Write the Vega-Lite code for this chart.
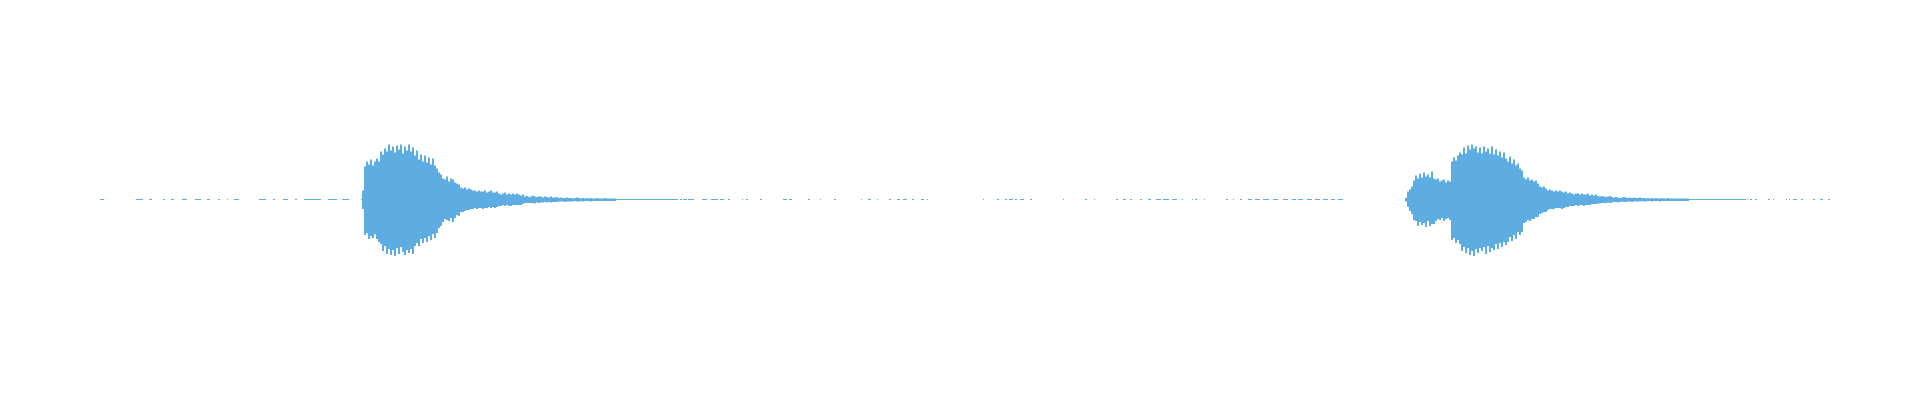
{
  "$schema": "https://vega.github.io/schema/vega-lite/v6.json",
  "description": "Audio waveform: two plucked notes, min/max amplitude per column with near-silent stretches on the zero line.",
  "width": 1920,
  "height": 400,
  "autosize": {"type": "fit", "contains": "padding"},
  "padding": 0,
  "background": "#ffffff",
  "config": {"view": {"stroke": null}},
  "datasets": {
    "wave": [
      {"t":3.63,"hi":0.045,"lo":-0.045},
      {"t":3.65,"hi":0.165,"lo":-0.175},
      {"t":3.67,"hi":0.19,"lo":-0.165},
      {"t":3.69,"hi":0.175,"lo":-0.195},
      {"t":3.71,"hi":0.2,"lo":-0.18},
      {"t":3.73,"hi":0.17,"lo":-0.19},
      {"t":3.75,"hi":0.19,"lo":-0.17},
      {"t":3.77,"hi":0.205,"lo":-0.195},
      {"t":3.79,"hi":0.19,"lo":-0.21},
      {"t":3.81,"hi":0.24,"lo":-0.22},
      {"t":3.83,"hi":0.225,"lo":-0.255},
      {"t":3.85,"hi":0.255,"lo":-0.23},
      {"t":3.87,"hi":0.24,"lo":-0.27},
      {"t":3.89,"hi":0.275,"lo":-0.245},
      {"t":3.91,"hi":0.245,"lo":-0.275},
      {"t":3.93,"hi":0.265,"lo":-0.25},
      {"t":3.95,"hi":0.235,"lo":-0.28},
      {"t":3.97,"hi":0.27,"lo":-0.24},
      {"t":3.99,"hi":0.25,"lo":-0.27},
      {"t":4.01,"hi":0.275,"lo":-0.235},
      {"t":4.03,"hi":0.23,"lo":-0.26},
      {"t":4.05,"hi":0.265,"lo":-0.275},
      {"t":4.07,"hi":0.245,"lo":-0.25},
      {"t":4.09,"hi":0.275,"lo":-0.265},
      {"t":4.11,"hi":0.24,"lo":-0.245},
      {"t":4.13,"hi":0.26,"lo":-0.27},
      {"t":4.15,"hi":0.22,"lo":-0.23},
      {"t":4.17,"hi":0.245,"lo":-0.215},
      {"t":4.19,"hi":0.2,"lo":-0.23},
      {"t":4.21,"hi":0.225,"lo":-0.195},
      {"t":4.23,"hi":0.19,"lo":-0.215},
      {"t":4.25,"hi":0.22,"lo":-0.19},
      {"t":4.27,"hi":0.185,"lo":-0.21},
      {"t":4.29,"hi":0.21,"lo":-0.18},
      {"t":4.31,"hi":0.175,"lo":-0.2},
      {"t":4.33,"hi":0.205,"lo":-0.17},
      {"t":4.35,"hi":0.17,"lo":-0.19},
      {"t":4.37,"hi":0.155,"lo":-0.165},
      {"t":4.39,"hi":0.135,"lo":-0.14},
      {"t":4.41,"hi":0.125,"lo":-0.13},
      {"t":4.43,"hi":0.105,"lo":-0.11},
      {"t":4.45,"hi":0.1,"lo":-0.095},
      {"t":4.47,"hi":0.115,"lo":-0.1},
      {"t":4.49,"hi":0.09,"lo":-0.105},
      {"t":4.51,"hi":0.105,"lo":-0.09},
      {"t":4.53,"hi":0.1,"lo":-0.11},
      {"t":4.55,"hi":0.085,"lo":-0.09},
      {"t":4.57,"hi":0.08,"lo":-0.075},
      {"t":4.59,"hi":0.075,"lo":-0.08},
      {"t":4.61,"hi":0.06,"lo":-0.06},
      {"t":4.63,"hi":0.055,"lo":-0.06},
      {"t":4.65,"hi":0.06,"lo":-0.055},
      {"t":4.67,"hi":0.05,"lo":-0.05},
      {"t":4.69,"hi":0.055,"lo":-0.05},
      {"t":4.71,"hi":0.05,"lo":-0.045},
      {"t":4.73,"hi":0.045,"lo":-0.045},
      {"t":4.75,"hi":0.045,"lo":-0.04},
      {"t":4.77,"hi":0.04,"lo":-0.045},
      {"t":4.79,"hi":0.045,"lo":-0.04},
      {"t":4.81,"hi":0.04,"lo":-0.04},
      {"t":4.83,"hi":0.04,"lo":-0.045},
      {"t":4.85,"hi":0.045,"lo":-0.04},
      {"t":4.87,"hi":0.035,"lo":-0.04},
      {"t":4.89,"hi":0.04,"lo":-0.035},
      {"t":4.91,"hi":0.045,"lo":-0.04},
      {"t":4.93,"hi":0.035,"lo":-0.035},
      {"t":4.95,"hi":0.035,"lo":-0.04},
      {"t":4.97,"hi":0.04,"lo":-0.035},
      {"t":4.99,"hi":0.03,"lo":-0.03},
      {"t":5.01,"hi":0.025,"lo":-0.03},
      {"t":5.03,"hi":0.03,"lo":-0.025},
      {"t":5.05,"hi":0.035,"lo":-0.03},
      {"t":5.07,"hi":0.025,"lo":-0.025},
      {"t":5.09,"hi":0.03,"lo":-0.03},
      {"t":5.11,"hi":0.025,"lo":-0.03},
      {"t":5.13,"hi":0.03,"lo":-0.025},
      {"t":5.15,"hi":0.025,"lo":-0.025},
      {"t":5.17,"hi":0.03,"lo":-0.025},
      {"t":5.19,"hi":0.025,"lo":-0.025},
      {"t":5.21,"hi":0.02,"lo":-0.025},
      {"t":5.23,"hi":0.025,"lo":-0.02},
      {"t":5.25,"hi":0.015,"lo":-0.015},
      {"t":5.27,"hi":0.0175,"lo":-0.015},
      {"t":5.29,"hi":0.0125,"lo":-0.015},
      {"t":5.31,"hi":0.015,"lo":-0.015},
      {"t":5.33,"hi":0.02,"lo":-0.015},
      {"t":5.35,"hi":0.015,"lo":-0.0175},
      {"t":5.37,"hi":0.0125,"lo":-0.0125},
      {"t":5.39,"hi":0.015,"lo":-0.015},
      {"t":5.41,"hi":0.015,"lo":-0.0125},
      {"t":5.43,"hi":0.01,"lo":-0.0125},
      {"t":5.45,"hi":0.015,"lo":-0.01},
      {"t":5.47,"hi":0.0125,"lo":-0.0125},
      {"t":5.49,"hi":0.01,"lo":-0.01},
      {"t":5.51,"hi":0.015,"lo":-0.0125},
      {"t":5.53,"hi":0.01,"lo":-0.01},
      {"t":5.55,"hi":0.01,"lo":-0.01},
      {"t":5.57,"hi":0.0125,"lo":-0.01},
      {"t":5.59,"hi":0.0075,"lo":-0.0075},
      {"t":5.61,"hi":0.01,"lo":-0.0075},
      {"t":5.63,"hi":0.0075,"lo":-0.0075},
      {"t":5.65,"hi":0.0075,"lo":-0.01},
      {"t":5.67,"hi":0.01,"lo":-0.0075},
      {"t":5.69,"hi":0.0075,"lo":-0.0075},
      {"t":5.71,"hi":0.0075,"lo":-0.0075},
      {"t":5.73,"hi":0.005,"lo":-0.0075},
      {"t":5.75,"hi":0.0075,"lo":-0.005},
      {"t":5.77,"hi":0.01,"lo":-0.0075},
      {"t":5.79,"hi":0.0075,"lo":-0.0075},
      {"t":5.81,"hi":0.005,"lo":-0.005},
      {"t":5.83,"hi":0.0075,"lo":-0.0075},
      {"t":5.85,"hi":0.005,"lo":-0.005},
      {"t":5.87,"hi":0.0075,"lo":-0.005},
      {"t":5.89,"hi":0.005,"lo":-0.005},
      {"t":5.91,"hi":0.0075,"lo":-0.0075},
      {"t":5.93,"hi":0.005,"lo":-0.005},
      {"t":5.95,"hi":0.005,"lo":-0.005},
      {"t":5.97,"hi":0.0075,"lo":-0.005},
      {"t":5.99,"hi":0.005,"lo":-0.005},
      {"t":6.01,"hi":0.005,"lo":-0.005},
      {"t":6.03,"hi":0.005,"lo":-0.005},
      {"t":6.05,"hi":0.0075,"lo":-0.005},
      {"t":6.07,"hi":0.005,"lo":-0.005},
      {"t":6.09,"hi":0.005,"lo":-0.005},
      {"t":6.11,"hi":0.005,"lo":-0.005},
      {"t":6.13,"hi":0.005,"lo":-0.005},
      {"t":6.15,"hi":0.005,"lo":-0.005},
      {"t":14.06,"hi":0.0075,"lo":-0.0075},
      {"t":14.08,"hi":0.04,"lo":-0.035},
      {"t":14.1,"hi":0.05,"lo":-0.055},
      {"t":14.12,"hi":0.065,"lo":-0.07},
      {"t":14.14,"hi":0.095,"lo":-0.1},
      {"t":14.16,"hi":0.12,"lo":-0.105},
      {"t":14.18,"hi":0.105,"lo":-0.13},
      {"t":14.2,"hi":0.13,"lo":-0.11},
      {"t":14.22,"hi":0.11,"lo":-0.125},
      {"t":14.24,"hi":0.135,"lo":-0.115},
      {"t":14.26,"hi":0.115,"lo":-0.135},
      {"t":14.28,"hi":0.125,"lo":-0.105},
      {"t":14.3,"hi":0.11,"lo":-0.13},
      {"t":14.32,"hi":0.14,"lo":-0.12},
      {"t":14.34,"hi":0.105,"lo":-0.12},
      {"t":14.36,"hi":0.1,"lo":-0.105},
      {"t":14.38,"hi":0.105,"lo":-0.095},
      {"t":14.4,"hi":0.09,"lo":-0.1},
      {"t":14.42,"hi":0.095,"lo":-0.09},
      {"t":14.44,"hi":0.1,"lo":-0.105},
      {"t":14.46,"hi":0.085,"lo":-0.095},
      {"t":14.48,"hi":0.095,"lo":-0.09},
      {"t":14.5,"hi":0.09,"lo":-0.1},
      {"t":14.52,"hi":0.19,"lo":-0.2},
      {"t":14.54,"hi":0.21,"lo":-0.19},
      {"t":14.56,"hi":0.195,"lo":-0.215},
      {"t":14.58,"hi":0.22,"lo":-0.2},
      {"t":14.6,"hi":0.235,"lo":-0.22},
      {"t":14.62,"hi":0.225,"lo":-0.255},
      {"t":14.64,"hi":0.26,"lo":-0.235},
      {"t":14.66,"hi":0.23,"lo":-0.265},
      {"t":14.68,"hi":0.27,"lo":-0.24},
      {"t":14.7,"hi":0.25,"lo":-0.275},
      {"t":14.72,"hi":0.275,"lo":-0.255},
      {"t":14.74,"hi":0.255,"lo":-0.28},
      {"t":14.76,"hi":0.265,"lo":-0.245},
      {"t":14.78,"hi":0.235,"lo":-0.265},
      {"t":14.8,"hi":0.26,"lo":-0.24},
      {"t":14.82,"hi":0.23,"lo":-0.255},
      {"t":14.84,"hi":0.265,"lo":-0.235},
      {"t":14.86,"hi":0.24,"lo":-0.27},
      {"t":14.88,"hi":0.255,"lo":-0.23},
      {"t":14.9,"hi":0.23,"lo":-0.26},
      {"t":14.92,"hi":0.265,"lo":-0.24},
      {"t":14.94,"hi":0.225,"lo":-0.25},
      {"t":14.96,"hi":0.25,"lo":-0.22},
      {"t":14.98,"hi":0.22,"lo":-0.245},
      {"t":15.0,"hi":0.24,"lo":-0.215},
      {"t":15.02,"hi":0.21,"lo":-0.235},
      {"t":15.04,"hi":0.235,"lo":-0.21},
      {"t":15.06,"hi":0.205,"lo":-0.225},
      {"t":15.08,"hi":0.19,"lo":-0.21},
      {"t":15.1,"hi":0.215,"lo":-0.185},
      {"t":15.12,"hi":0.18,"lo":-0.205},
      {"t":15.14,"hi":0.2,"lo":-0.175},
      {"t":15.16,"hi":0.17,"lo":-0.195},
      {"t":15.18,"hi":0.18,"lo":-0.16},
      {"t":15.2,"hi":0.155,"lo":-0.175},
      {"t":15.22,"hi":0.145,"lo":-0.16},
      {"t":15.24,"hi":0.11,"lo":-0.115},
      {"t":15.26,"hi":0.1,"lo":-0.11},
      {"t":15.28,"hi":0.11,"lo":-0.1},
      {"t":15.3,"hi":0.095,"lo":-0.105},
      {"t":15.32,"hi":0.1,"lo":-0.095},
      {"t":15.34,"hi":0.09,"lo":-0.095},
      {"t":15.36,"hi":0.095,"lo":-0.085},
      {"t":15.38,"hi":0.08,"lo":-0.085},
      {"t":15.4,"hi":0.065,"lo":-0.07},
      {"t":15.42,"hi":0.06,"lo":-0.065},
      {"t":15.44,"hi":0.065,"lo":-0.06},
      {"t":15.46,"hi":0.055,"lo":-0.06},
      {"t":15.48,"hi":0.045,"lo":-0.05},
      {"t":15.5,"hi":0.05,"lo":-0.045},
      {"t":15.52,"hi":0.045,"lo":-0.045},
      {"t":15.54,"hi":0.04,"lo":-0.045},
      {"t":15.56,"hi":0.045,"lo":-0.04},
      {"t":15.58,"hi":0.04,"lo":-0.04},
      {"t":15.6,"hi":0.045,"lo":-0.04},
      {"t":15.62,"hi":0.04,"lo":-0.045},
      {"t":15.64,"hi":0.035,"lo":-0.04},
      {"t":15.66,"hi":0.04,"lo":-0.035},
      {"t":15.68,"hi":0.03,"lo":-0.035},
      {"t":15.7,"hi":0.035,"lo":-0.03},
      {"t":15.72,"hi":0.03,"lo":-0.03},
      {"t":15.74,"hi":0.025,"lo":-0.03},
      {"t":15.76,"hi":0.03,"lo":-0.025},
      {"t":15.78,"hi":0.03,"lo":-0.03},
      {"t":15.8,"hi":0.025,"lo":-0.025},
      {"t":15.82,"hi":0.03,"lo":-0.025},
      {"t":15.84,"hi":0.025,"lo":-0.03},
      {"t":15.86,"hi":0.025,"lo":-0.025},
      {"t":15.88,"hi":0.03,"lo":-0.025},
      {"t":15.9,"hi":0.02,"lo":-0.025},
      {"t":15.92,"hi":0.025,"lo":-0.02},
      {"t":15.94,"hi":0.02,"lo":-0.02},
      {"t":15.96,"hi":0.025,"lo":-0.02},
      {"t":15.98,"hi":0.0175,"lo":-0.0175},
      {"t":16.0,"hi":0.015,"lo":-0.0175},
      {"t":16.02,"hi":0.0175,"lo":-0.015},
      {"t":16.04,"hi":0.015,"lo":-0.015},
      {"t":16.06,"hi":0.0125,"lo":-0.015},
      {"t":16.08,"hi":0.015,"lo":-0.0125},
      {"t":16.1,"hi":0.0175,"lo":-0.015},
      {"t":16.12,"hi":0.0125,"lo":-0.0125},
      {"t":16.14,"hi":0.01,"lo":-0.01},
      {"t":16.16,"hi":0.0125,"lo":-0.01},
      {"t":16.18,"hi":0.01,"lo":-0.0125},
      {"t":16.2,"hi":0.0075,"lo":-0.01},
      {"t":16.22,"hi":0.01,"lo":-0.0075},
      {"t":16.24,"hi":0.0125,"lo":-0.01},
      {"t":16.26,"hi":0.01,"lo":-0.01},
      {"t":16.28,"hi":0.0075,"lo":-0.0075},
      {"t":16.3,"hi":0.01,"lo":-0.0075},
      {"t":16.32,"hi":0.0075,"lo":-0.01},
      {"t":16.34,"hi":0.01,"lo":-0.0075},
      {"t":16.36,"hi":0.0075,"lo":-0.0075},
      {"t":16.38,"hi":0.0075,"lo":-0.0075},
      {"t":16.4,"hi":0.01,"lo":-0.0075},
      {"t":16.42,"hi":0.0075,"lo":-0.005},
      {"t":16.44,"hi":0.0075,"lo":-0.0075},
      {"t":16.46,"hi":0.005,"lo":-0.0075},
      {"t":16.48,"hi":0.0075,"lo":-0.005},
      {"t":16.5,"hi":0.005,"lo":-0.005},
      {"t":16.52,"hi":0.0075,"lo":-0.0075},
      {"t":16.54,"hi":0.005,"lo":-0.005},
      {"t":16.56,"hi":0.0075,"lo":-0.005},
      {"t":16.58,"hi":0.005,"lo":-0.005},
      {"t":16.6,"hi":0.005,"lo":-0.0075},
      {"t":16.62,"hi":0.0075,"lo":-0.005},
      {"t":16.64,"hi":0.005,"lo":-0.005},
      {"t":16.66,"hi":0.005,"lo":-0.005},
      {"t":16.68,"hi":0.0075,"lo":-0.005},
      {"t":16.7,"hi":0.005,"lo":-0.005},
      {"t":16.72,"hi":0.005,"lo":-0.005},
      {"t":16.74,"hi":0.005,"lo":-0.005},
      {"t":16.76,"hi":0.005,"lo":-0.005},
      {"t":16.78,"hi":0.005,"lo":-0.005},
      {"t":16.8,"hi":0.005,"lo":-0.005},
      {"t":16.82,"hi":0.005,"lo":-0.005},
      {"t":16.84,"hi":0.005,"lo":-0.005},
      {"t":16.86,"hi":0.005,"lo":-0.005},
      {"t":16.88,"hi":0.005,"lo":-0.005}
    ],
    "quiet": [
      {"s":1.0,"e":1.04},{"s":1.36,"e":1.43},{"s":1.49,"e":1.52},{"s":1.63,"e":1.65},
      {"s":1.71,"e":1.74},{"s":1.82,"e":1.87},{"s":1.95,"e":2.01},{"s":2.07,"e":2.1},
      {"s":2.18,"e":2.2},{"s":2.27,"e":2.28},{"s":2.34,"e":2.39},{"s":2.59,"e":2.66},
      {"s":2.73,"e":2.75},{"s":2.83,"e":2.88},{"s":2.95,"e":2.97},{"s":3.04,"e":3.21},
      {"s":3.28,"e":3.37},{"s":3.42,"e":3.49},{"s":3.61,"e":3.63},
      {"s":6.16,"e":6.78},{"s":6.8,"e":6.82},{"s":6.83,"e":6.87},{"s":6.88,"e":6.94},
      {"s":7.02,"e":7.07},{"s":7.11,"e":7.18},{"s":7.2,"e":7.24},{"s":7.28,"e":7.3},
      {"s":7.42,"e":7.43},{"s":7.46,"e":7.48},{"s":7.6,"e":7.62},{"s":7.83,"e":7.87},
      {"s":7.89,"e":7.92},{"s":8.08,"e":8.1},{"s":8.2,"e":8.21},{"s":8.34,"e":8.36},
      {"s":8.61,"e":8.62},{"s":8.68,"e":8.71},{"s":8.77,"e":8.78},{"s":8.89,"e":8.91},
      {"s":8.97,"e":9.0},{"s":9.03,"e":9.07},{"s":9.12,"e":9.14},{"s":9.21,"e":9.24},
      {"s":9.27,"e":9.28},{"s":9.83,"e":9.84},{"s":9.97,"e":9.99},{"s":10.05,"e":10.07},
      {"s":10.09,"e":10.13},{"s":10.15,"e":10.17},{"s":10.2,"e":10.24},{"s":10.3,"e":10.32},
      {"s":10.63,"e":10.64},{"s":10.85,"e":10.87},{"s":10.94,"e":10.95},{"s":11.16,"e":11.18},
      {"s":11.23,"e":11.26},{"s":11.3,"e":11.32},{"s":11.4,"e":11.42},{"s":11.48,"e":11.51},
      {"s":11.56,"e":11.61},{"s":11.63,"e":11.69},{"s":11.72,"e":11.77},{"s":11.82,"e":11.83},
      {"s":11.92,"e":11.93},{"s":11.95,"e":11.97},{"s":12.04,"e":12.05},{"s":12.26,"e":12.28},
      {"s":12.33,"e":12.34},{"s":12.4,"e":12.42},{"s":12.48,"e":12.52},{"s":12.55,"e":12.6},
      {"s":12.63,"e":12.69},{"s":12.73,"e":12.78},{"s":12.83,"e":12.88},{"s":12.92,"e":12.96},
      {"s":12.98,"e":13.03},{"s":13.07,"e":13.12},{"s":13.15,"e":13.2},{"s":13.23,"e":13.28},
      {"s":13.31,"e":13.35},{"s":13.38,"e":13.43},
      {"s":16.89,"e":17.46},{"s":17.47,"e":17.48},{"s":17.5,"e":17.52},{"s":17.55,"e":17.57},
      {"s":17.68,"e":17.7},{"s":17.73,"e":17.74},{"s":17.86,"e":17.87},{"s":17.89,"e":17.9},
      {"s":17.93,"e":17.97},{"s":18.01,"e":18.03},{"s":18.13,"e":18.15},{"s":18.2,"e":18.23},
      {"s":18.28,"e":18.3}
    ]
  },
  "layer": [
    {
      "data": {"name": "quiet"},
      "mark": {"type": "rule", "color": "#5dade2", "strokeWidth": 1, "yOffset": -0.5},
      "encoding": {
        "x": {"field": "s", "type": "quantitative", "scale": {"domain": [0, 19.2], "nice": false, "zero": false}, "axis": null},
        "x2": {"field": "e"},
        "y": {"datum": 0, "type": "quantitative", "scale": {"domain": [-1, 1], "nice": false}, "axis": null}
      }
    },
    {
      "data": {"name": "wave"},
      "mark": {"type": "rule", "color": "#5dade2", "strokeWidth": 2, "yOffset": -0.5},
      "encoding": {
        "x": {"field": "t", "type": "quantitative", "scale": {"domain": [0, 19.2], "nice": false, "zero": false}, "axis": null},
        "y": {"field": "hi", "type": "quantitative", "scale": {"domain": [-1, 1], "nice": false}, "axis": null},
        "y2": {"field": "lo"}
      }
    }
  ]
}
